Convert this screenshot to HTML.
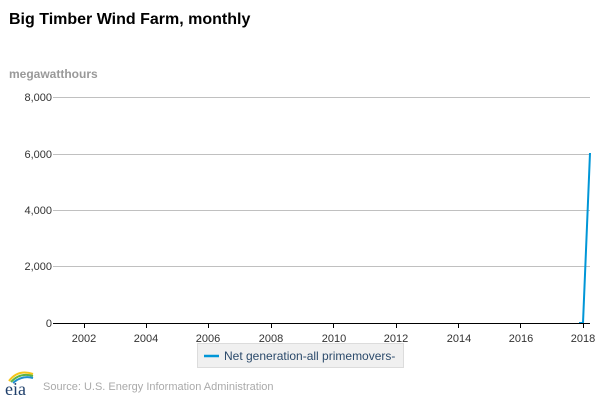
<!DOCTYPE html>
<html><head><meta charset="utf-8"><style>
html,body{margin:0;padding:0;background:#fff;}
svg{display:block;font-family:"Liberation Sans",Arial,sans-serif;}
</style></head><body>
<svg width="600" height="400" viewBox="0 0 600 400" xmlns="http://www.w3.org/2000/svg">
<rect width="600" height="400" fill="#fff"/>
<text x="9" y="24" font-size="16" font-weight="bold" fill="#000">Big Timber Wind Farm, monthly</text>
<text x="9" y="78" font-size="12" font-weight="bold" fill="#999">megawatthours</text>
<g stroke="#c0c0c0" stroke-width="1">
<line x1="53" y1="97.5" x2="590" y2="97.5"/>
<line x1="53" y1="154.5" x2="590" y2="154.5"/>
<line x1="53" y1="210.5" x2="590" y2="210.5"/>
<line x1="53" y1="266.5" x2="590" y2="266.5"/>
</g>
<polyline points="579,323 583,323 590,153" fill="none" stroke="#0096d7" stroke-width="2"/>
<line x1="53" y1="323.5" x2="590" y2="323.5" stroke="#000" stroke-width="1"/>
<g stroke="#000" stroke-width="1">
<line x1="84.5" y1="323" x2="84.5" y2="328"/>
<line x1="146.5" y1="323" x2="146.5" y2="328"/>
<line x1="208.5" y1="323" x2="208.5" y2="328"/>
<line x1="271.5" y1="323" x2="271.5" y2="328"/>
<line x1="333.5" y1="323" x2="333.5" y2="328"/>
<line x1="396.5" y1="323" x2="396.5" y2="328"/>
<line x1="458.5" y1="323" x2="458.5" y2="328"/>
<line x1="520.5" y1="323" x2="520.5" y2="328"/>
<line x1="583.5" y1="323" x2="583.5" y2="328"/>
</g>
<g font-size="11" fill="#333" text-anchor="end">
<text x="52" y="101">8,000</text>
<text x="52" y="158">6,000</text>
<text x="52" y="214">4,000</text>
<text x="52" y="270">2,000</text>
<text x="52" y="327">0</text>
</g>
<g font-size="11" fill="#333" text-anchor="middle">
<text x="84" y="342">2002</text>
<text x="146" y="342">2004</text>
<text x="208" y="342">2006</text>
<text x="271" y="342">2008</text>
<text x="334" y="342">2010</text>
<text x="396" y="342">2012</text>
<text x="459" y="342">2014</text>
<text x="521" y="342">2016</text>
<text x="583" y="342">2018</text>
</g>
<rect x="197.5" y="343.5" width="206" height="24" fill="#f0f0f0" stroke="#dcdcdc"/>
<line x1="204" y1="356" x2="219" y2="356" stroke="#0096d7" stroke-width="2.5"/>
<text x="224" y="360" font-size="12" fill="#2b4a6b">Net generation-all primemovers-</text>
<path d="M9,381 Q18,369 33,374" fill="none" stroke="#f5c518" stroke-width="2"/>
<path d="M11,382 Q20,372 33,376" fill="none" stroke="#5db346" stroke-width="2"/>
<path d="M13,383 Q22,375 33,378" fill="none" stroke="#1f8fd0" stroke-width="2"/>
<text x="5" y="395" font-size="18" font-family="Liberation Serif,serif" fill="#1f3f6b">eia</text>
<text x="43" y="390" font-size="11" fill="#aaa">Source: U.S. Energy Information Administration</text>
</svg>
</body></html>
